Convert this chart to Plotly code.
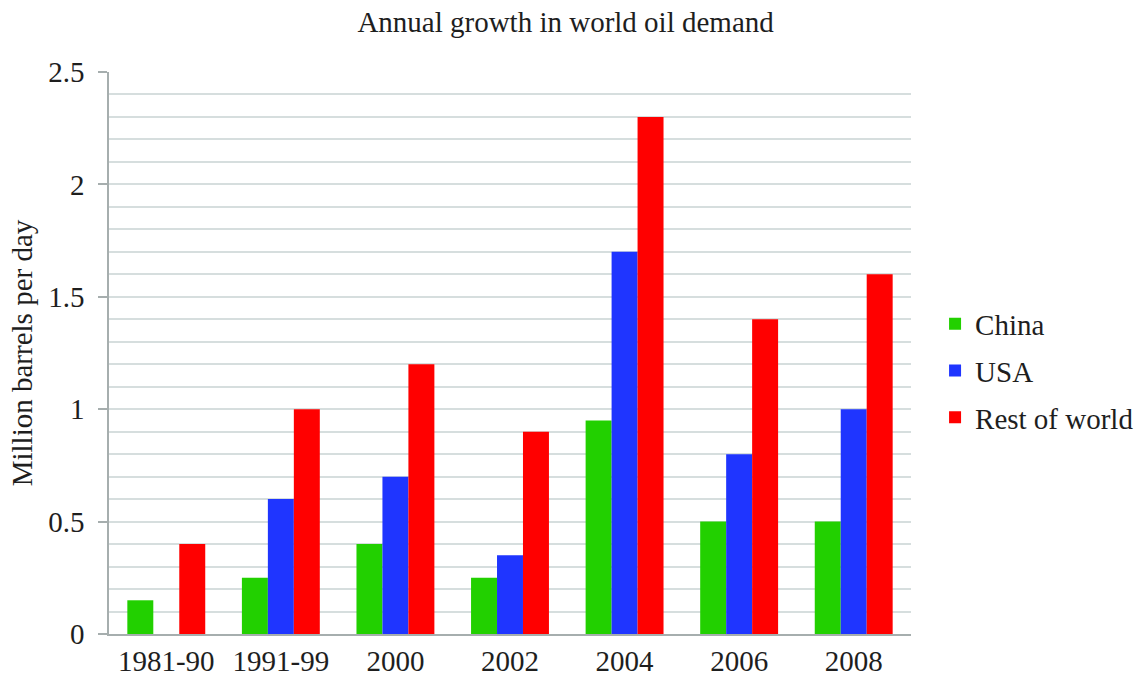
import plotly.graph_objects as go

periods = ["1981-90", "1991-99", "2000", "2002", "2004", "2006", "2008"]
china = [0.15, 0.25, 0.4, 0.25, 0.95, 0.5, 0.5]
usa = [None, 0.6, 0.7, 0.35, 1.7, 0.8, 1.0]
rest_of_world = [0.4, 1.0, 1.2, 0.9, 2.3, 1.4, 1.6]

series = [
    ("China", china, "#22d000"),
    ("USA", usa, "#1f35ff"),
    ("Rest of world", rest_of_world, "#ff0000"),
]

FONT = "Liberation Serif"
TEXT = "#1e1e1e"
SIZE = 29

fig = go.Figure()
for name, vals, color in series:
    fig.add_trace(go.Bar(
        x=periods, y=vals, name=name, legendgroup=name,
        marker=dict(color=color, line=dict(width=0)),
    ))

fig.update_layout(
    width=1138, height=681,
    margin=dict(l=109, r=227, t=72, b=47, autoexpand=False),
    paper_bgcolor="white", plot_bgcolor="white",
    barmode="group", bargap=0.32, bargroupgap=0,
    font=dict(family=FONT, size=SIZE, color=TEXT),
    title=dict(text="Annual growth in world oil demand", x=0.497, xref="container",
               xanchor="center", y=0.968, yref="container", yanchor="middle",
               font=dict(family=FONT, size=SIZE, color=TEXT)),
    showlegend=True,
    legend=dict(x=1.03, xanchor="left", y=0.468, yanchor="middle",
                traceorder="grouped", tracegroupgap=6,
                font=dict(family=FONT, size=SIZE, color=TEXT),
                bgcolor="rgba(0,0,0,0)", borderwidth=0),
    xaxis=dict(showline=True, linecolor="#a6aeae", linewidth=1.5,
               ticks="", showgrid=False, zeroline=False,
               tickfont=dict(family=FONT, size=SIZE, color=TEXT)),
    yaxis=dict(range=[0, 2.5], dtick=0.5, tick0=0, tickformat="~g",
               showline=True, linecolor="#a6aeae", linewidth=1.5,
               ticks="outside", ticklen=9, tickcolor="#a6aeae", tickwidth=1.5,
               ticklabelstandoff=8,
               showgrid=True, gridcolor="#d6dede", gridwidth=1.5,
               zeroline=False,
               minor=dict(dtick=0.1, showgrid=True, gridcolor="#d6dede", gridwidth=1.5),
               title=dict(text="Million barrels per day", standoff=7,
                          font=dict(family=FONT, size=SIZE, color=TEXT)),
               tickfont=dict(family=FONT, size=SIZE, color=TEXT)),
)

fig.write_html("out.html")
